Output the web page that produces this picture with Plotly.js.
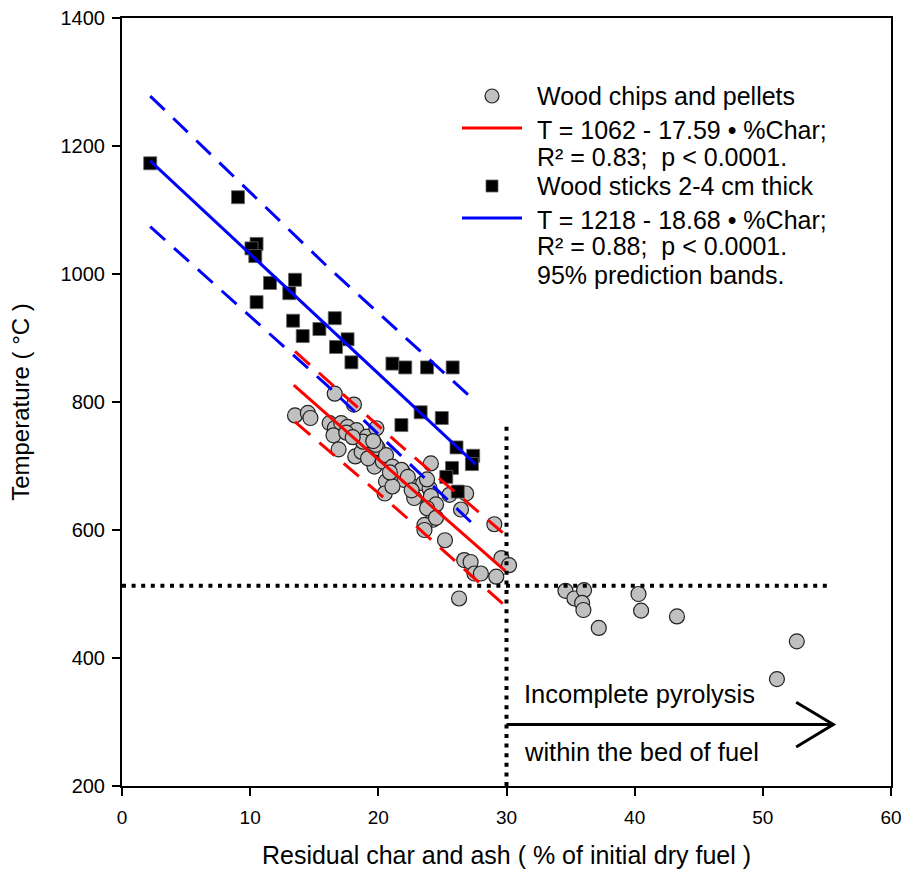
<!DOCTYPE html>
<html><head><meta charset="utf-8">
<script src="https://cdn.plot.ly/plotly-3.0.1.min.js"></script>
<style>html,body{margin:0;padding:0;background:#fff}</style>
</head><body><div id="chart" style="width:904px;height:879px"></div>
<script>
// ---- data ----
const chipsChar = [13.5,14.5,14.7,16.6,18.1,16.2,16.6,17.1,16.5,16.9,17.6,18.3,18.2,18.7,19.1,19.85,19.45,19.95,18.8,19.7,20.35,20.6,21.1,21.3,20.6,20.5,21.9,22.05,22.7,22.8,21.1,19.2,19.8,21.8,22.3,23.5,24.0,23.9,24.25,23.6,25.2,25.55,26.85,26.45,29.05,24.1,23.8,24.1,24.5,23.8,24.5,23.6,26.7,27.2,27.5,28.0,29.2,29.6,30.2,26.3,17.5,18.0,20.9,22.6,19.6,34.6,35.3,36.05,35.9,36.0,37.2,40.3,40.5,43.3,52.65,51.1];
const chipsTemp = [779,783,775,813,796,767,759,767,748,726,761,756,715,722,746,759,736,728,738,699,707,717,699,683,676,657,691,678,668,650,668,712,733,694,683,673,665,639,616,608,584,655,657,632,609,704,679,653,640,634,619,600,553,550,532,532,527,556,545,493,752,745,690,662,739,505,493,506,486,475,447,500,474,465,426,367];

const sticksChar = [2.2,9.05,10.5,10.1,10.4,11.55,13.5,13.05,10.5,13.35,14.1,15.4,16.6,17.6,16.7,17.9,21.1,22.1,23.8,25.8,23.3,24.95,21.8,26.1,27.4,27.3,25.75,25.3,26.2];
const sticksTemp = [1173,1120,1047,1040,1028,986,991,970,956,927,903,914,931,898,886,862,860,854,854,854,784,775,764,729,716,703,697,683,660];

// regression equations printed on the chart: T = a + b * %Char
const chipsFitCoef = [1062, -17.59];
const chipsFitRange = [13.4, 29.9];
const sticksFitCoef = [1218, -18.68];
const sticksFitRange = [2.2, 27.6];

// 95% prediction bands
const chipsBandChar = [13.5, 21.5, 29.7];
const chipsBandUpper = [879, 736, 596];
const chipsBandLower = [769, 632, 485];
const sticksBandChar = [2.2, 16, 27.3];
const sticksBandUpper = [1278, 1012, 806];
const sticksBandLower = [1074, 826, 611];

// reference thresholds
const charThreshold = 30;
const tempThreshold = 513;
const hLineChar = [0, 55.3];
const vLineTemp = [200, 768];

const xTicks = [0,10,20,30,40,50,60];
const yTicks = [200,400,600,800,1000,1200,1400];

// ---- build ----
const FONT = 'Liberation Sans, Arial, sans-serif';
const fitY = (c, xs) => xs.map(x => c[0] + c[1]*x);

const traces = [
  {x: chipsChar, y: chipsTemp, type:'scatter', mode:'markers', name:'Wood chips and pellets',
   marker:{symbol:'circle', size:15, color:'#c0c0c0', line:{color:'#222', width:1.2}}},
  {x: sticksChar, y: sticksTemp, type:'scatter', mode:'markers', name:'Wood sticks 2-4 cm thick',
   marker:{symbol:'square', size:13, color:'#000', line:{color:'#666', width:0.8}}},
  {x: chipsFitRange, y: fitY(chipsFitCoef, chipsFitRange), mode:'lines', name:'chips fit', line:{color:'#ff0000', width:3}},
  {x: chipsBandChar, y: chipsBandUpper, mode:'lines', name:'chips upper', line:{color:'#ff0000', width:3, dash:'20px,12px'}},
  {x: chipsBandChar, y: chipsBandLower, mode:'lines', name:'chips lower', line:{color:'#ff0000', width:3, dash:'20px,12px'}},
  {x: sticksFitRange, y: fitY(sticksFitCoef, sticksFitRange), mode:'lines', name:'sticks fit', line:{color:'#0000ff', width:3}},
  {x: sticksBandChar, y: sticksBandUpper, mode:'lines', name:'sticks upper', line:{color:'#0000ff', width:3, dash:'20px,12px'}},
  {x: sticksBandChar, y: sticksBandLower, mode:'lines', name:'sticks lower', line:{color:'#0000ff', width:3, dash:'20px,12px'}},
  {x: hLineChar, y: [tempThreshold, tempThreshold], mode:'lines', name:'threshold T', line:{color:'#000', width:4, dash:'4px,5.6px'}},
  {x: [charThreshold, charThreshold], y: vLineTemp, mode:'lines', name:'threshold char', line:{color:'#000', width:4, dash:'4px,5.6px'}}
];

// layout helpers (pixel -> paper)
const L = 122, R = 891, T = 18, B = 786;
const pxX = p => (p - L) / (R - L);
const pxY = p => (B - p) / (B - T);

const legFont = {family: FONT, size: 25, color:'#000'};
const legendLines = [
  ['Wood chips and pellets', 96],
  ['T = 1062 - 17.59 \u2022 %Char;', 130],
  ['R\u00b2 = 0.83;  p < 0.0001.', 157],
  ['Wood sticks 2-4 cm thick', 186],
  ['T = 1218 - 18.68 \u2022 %Char;', 220],
  ['R\u00b2 = 0.88;  p < 0.0001.', 246],
  ['95% prediction bands.', 275]
];
const annotations = legendLines.map(([t, y]) => ({
  xref:'paper', yref:'paper', x: pxX(535), y: pxY(y), xanchor:'left', yanchor:'middle',
  text: t.replace(/  /g, ' &nbsp;'), showarrow:false, font: legFont
}));
annotations.push(
  {xref:'paper', yref:'paper', x:pxX(522), y:pxY(694), xanchor:'left', yanchor:'middle', text:'Incomplete pyrolysis', showarrow:false, font:{family:FONT, size:25.5, color:'#000'}},
  {xref:'paper', yref:'paper', x:pxX(522), y:pxY(752), xanchor:'left', yanchor:'middle', text:'within the bed of fuel', showarrow:false, font:{family:FONT, size:25.5, color:'#000'}}
);

const shapes = [
  // legend icons
  {type:'circle', xref:'paper', yref:'paper', xsizemode:'pixel', ysizemode:'pixel', xanchor:pxX(492), yanchor:pxY(96), x0:-7, x1:7, y0:-7, y1:7, fillcolor:'#c0c0c0', line:{color:'#222', width:1.2}},
  {type:'line', xref:'paper', yref:'paper', x0:pxX(462), x1:pxX(522), y0:pxY(128), y1:pxY(128), line:{color:'#ff0000', width:3}},
  {type:'rect', xref:'paper', yref:'paper', xsizemode:'pixel', ysizemode:'pixel', xanchor:pxX(492), yanchor:pxY(186), x0:-6, x1:6, y0:-6, y1:6, fillcolor:'#000', line:{color:'#666', width:0.8}},
  {type:'line', xref:'paper', yref:'paper', x0:pxX(462), x1:pxX(522), y0:pxY(218), y1:pxY(218), line:{color:'#0000ff', width:3}},
  // arrow
  {type:'line', xref:'x', yref:'y', x0:30, x1:55.5, y0:296, y1:296, line:{color:'#000', width:3}},
  {type:'path', xref:'x', yref:'y', path:'M 52.6,331 L 55.5,296 L 52.6,261', line:{color:'#000', width:3}}
];

const axisCommon = {
  showline:true, mirror:true, linecolor:'#000', linewidth:2,
  ticks:'outside', ticklen:8, tickwidth:2, tickcolor:'#000',
  showgrid:false, zeroline:false,
  tickfont:{family:FONT, size:19, color:'#000'}
};

const layout = {
  width:904, height:879,
  margin:{l:L, r:904-R, t:T, b:879-B, pad:0},
  paper_bgcolor:'#fff', plot_bgcolor:'#fff',
  showlegend:false,
  xaxis: Object.assign({}, axisCommon, {range:[0,60], tickvals:xTicks, ticklabelstandoff:5,
    title:{text:'Residual char and ash ( % of initial dry fuel )', font:{family:FONT, size:25, color:'#000'}, standoff:20}}),
  yaxis: Object.assign({}, axisCommon, {range:[200,1400], tickvals:yTicks, ticklabelstandoff:3, tickfont:{family:FONT, size:20, color:'#000'},
    title:{text:'Temperature ( \u00b0C )', font:{family:FONT, size:24, color:'#000'}, standoff:24}}),
  annotations, shapes
};

Plotly.newPlot('chart', traces, layout, {displayModeBar:false, staticPlot:true});
</script></body></html>
